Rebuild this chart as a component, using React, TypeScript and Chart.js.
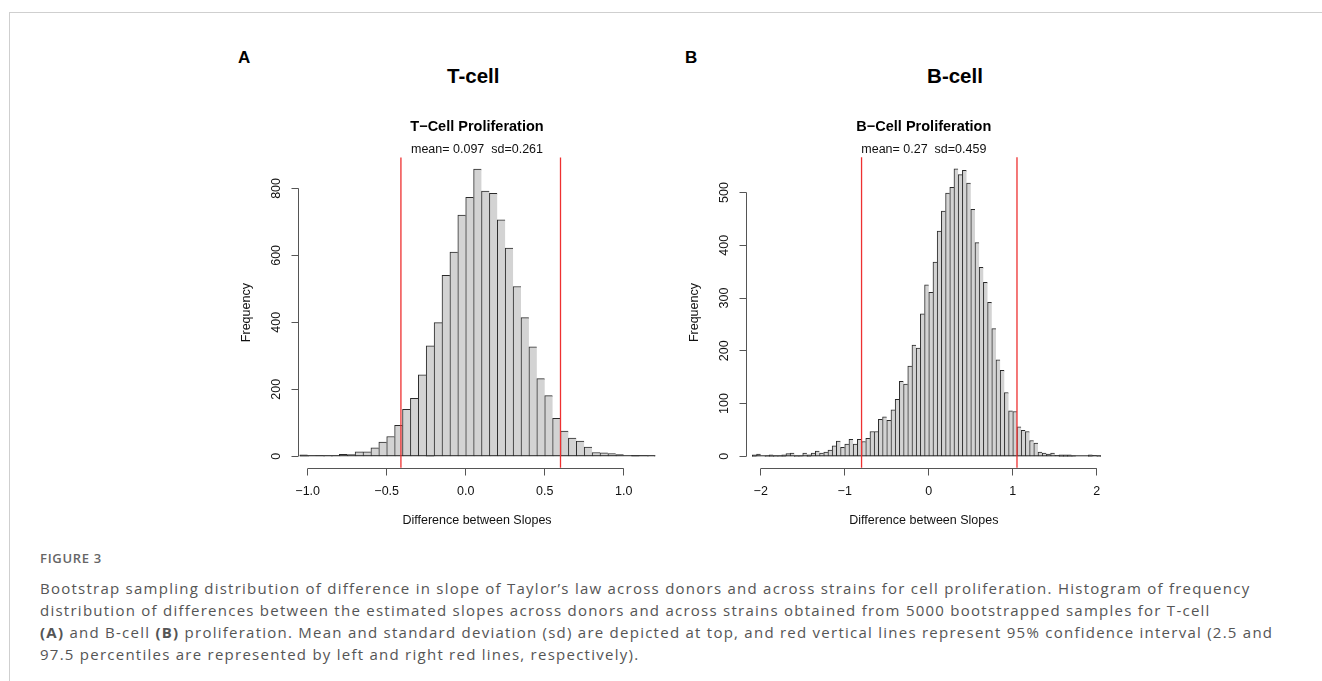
import React, { useEffect, useRef } from "react";
import { Chart, registerables } from "chart.js";

Chart.register(...registerables);

// ---------- data ----------
const BIN_WIDTH = 0.05;

const tCellBinStart = -1.05;
const tCellCounts = [
  4, 1, 2, 1, 1, 6, 5, 13, 13, 25, 42, 59, 92, 140, 173, 243, 330, 399, 540, 610,
  720, 773, 858, 792, 785, 706, 622, 507, 414, 327, 232, 181, 113, 75, 54, 45, 27,
  11, 10, 8, 5, 0, 3, 2, 1,
];
const tCellCI = [-0.41, 0.6];
const tCellXTicks = [-1, -0.5, 0, 0.5, 1];
const tCellXTickLabels = ["\u22121.0", "\u22120.5", "0.0", "0.5", "1.0"];
const tCellYTicks = [0, 200, 400, 600, 800];
const tCellTitle = "T\u2212Cell Proliferation";
const tCellStats = "mean= 0.097  sd=0.261";

const bCellBinStart = -2.1;
const bCellCounts = [
  3, 4, 0, 1, 3, 1, 1, 3, 5, 6, 1, 1, 6, 3, 6, 10, 6, 8, 12, 20, 29, 17, 23, 32,
  23, 32, 28, 34, 47, 47, 70, 75, 68, 88, 108, 142, 137, 171, 211, 205, 270, 325,
  311, 368, 427, 465, 499, 510, 545, 534, 542, 518, 468, 405, 358, 330, 292, 242,
  183, 163, 121, 86, 85, 56, 49, 47, 30, 25, 8, 6, 4, 6, 2, 3, 3, 3, 1, 0, 0, 0,
  3, 2, 1,
];
const bCellCI = [-0.8, 1.05];
const bCellXTicks = [-2, -1, 0, 1, 2];
const bCellXTickLabels = ["\u22122", "\u22121", "0", "1", "2"];
const bCellYTicks = [0, 100, 200, 300, 400, 500];
const bCellTitle = "B\u2212Cell Proliferation";
const bCellStats = "mean= 0.27  sd=0.459";

const xAxisTitle = "Difference between Slopes";
const yAxisTitle = "Frequency";

const captionLines = [
  "Bootstrap sampling distribution of difference in slope of Taylor\u2019s law across donors and across strains for cell proliferation. Histogram of frequency",
  "distribution of differences between the estimated slopes across donors and across strains obtained from 5000 bootstrapped samples for T-cell",
  "__A__ and B-cell __B__ proliferation. Mean and standard deviation (sd) are depicted at top, and red vertical lines represent 95% confidence interval (2.5 and",
  "97.5 percentiles are represented by left and right red lines, respectively).",
];

const FONT = '"Liberation Sans", Arial, Helvetica, sans-serif';

type PanelProps = {
  box: { left: number; top: number; width: number; height: number };
  padding: { left: number; right: number; top: number; bottom: number };
  counts: number[];
  binStart: number;
  ci: number[];
  xRange: [number, number];
  yRange: [number, number];
  xTicks: number[];
  xTickLabels: string[];
  yTicks: number[];
  title: string;
  stats: string;
};

function crisp(v: number) {
  return Math.round(v - 0.5) + 0.5;
}

function HistPanel(p: PanelProps) {
  const ref = useRef<HTMLCanvasElement | null>(null);
  useEffect(() => {
    if (!ref.current) return;
    const n = p.counts.length;
    const rPlugin = {
      id: "rStyle",
      afterDraw(chart: any) {
        const { ctx, chartArea } = chart;
        const xs = chart.scales.x;
        const ys = chart.scales.y;
        ctx.save();
        ctx.lineWidth = 1;
        // baseline under bars
        const y0 = ys.getPixelForValue(0);
        ctx.strokeStyle = "#262626";
        ctx.beginPath();
        ctx.moveTo(xs.getPixelForValue(p.binStart), y0 - 0.5);
        ctx.lineTo(xs.getPixelForValue(p.binStart + n * BIN_WIDTH), y0 - 0.5);
        ctx.stroke();
        // red CI lines
        ctx.lineWidth = 1.3;
        for (let k = 0; k < p.ci.length; k++) {
          const px = xs.getPixelForValue(p.ci[k]);
          ctx.strokeStyle = "rgb(238, 48, 48)";
          ctx.beginPath();
          ctx.moveTo(px, chartArea.top);
          ctx.lineTo(px, chartArea.bottom);
          ctx.stroke();
        }
        ctx.lineWidth = 1;
        // x axis
        ctx.strokeStyle = "#555";
        const xt = xs.ticks;
        const axY = crisp(chartArea.bottom + 0.6);
        ctx.beginPath();
        ctx.moveTo(xs.getPixelForTick(0), axY);
        ctx.lineTo(xs.getPixelForTick(xt.length - 1), axY);
        ctx.stroke();
        ctx.fillStyle = "#111";
        ctx.font = `12.5px ${FONT}`;
        ctx.textAlign = "center";
        ctx.textBaseline = "middle";
        xt.forEach((_t: any, i: number) => {
          const px = crisp(xs.getPixelForTick(i));
          ctx.beginPath();
          ctx.moveTo(px, axY);
          ctx.lineTo(px, axY + 7);
          ctx.stroke();
          ctx.fillText(p.xTickLabels[i], xs.getPixelForTick(i), axY + 23.5);
        });
        const cx = (chartArea.left + chartArea.right) / 2;
        ctx.fillText(xAxisTitle, cx, axY + 52);
        // y axis
        const yt = ys.ticks;
        const axX = crisp(chartArea.left);
        ctx.beginPath();
        ctx.moveTo(axX, ys.getPixelForTick(0));
        ctx.lineTo(axX, ys.getPixelForTick(yt.length - 1));
        ctx.stroke();
        yt.forEach((t: any, i: number) => {
          const py = crisp(ys.getPixelForTick(i));
          ctx.beginPath();
          ctx.moveTo(axX, py);
          ctx.lineTo(axX - 7, py);
          ctx.stroke();
          ctx.save();
          ctx.translate(axX - 22, ys.getPixelForTick(i));
          ctx.rotate(-Math.PI / 2);
          ctx.fillText(String(t.value), 0, 0);
          ctx.restore();
        });
        ctx.save();
        ctx.translate(axX - 51.5, (chartArea.top + chartArea.bottom) / 2);
        ctx.rotate(-Math.PI / 2);
        ctx.fillText(yAxisTitle, 0, 0);
        ctx.restore();
        // titles
        ctx.font = `bold 14.5px ${FONT}`;
        ctx.fillStyle = "#000";
        ctx.fillText(p.title, cx, chartArea.top - 30.2);
        ctx.font = `12.5px ${FONT}`;
        ctx.fillStyle = "#111";
        ctx.fillText(p.stats, cx, chartArea.top - 7.5);
        ctx.restore();
      },
    };
    const chart = new Chart(ref.current, {
      type: "bar",
      data: {
        datasets: [
          {
            data: p.counts.map((c, i) => ({ x: p.binStart + (i + 0.5) * BIN_WIDTH, y: c })),
            backgroundColor: "#d3d3d3",
            borderColor: "#2a2a2a",
            borderWidth: (c: any) => ({
              top: 1,
              left: 1,
              bottom: 0,
              right: c.dataIndex === n - 1 ? 1 : 0,
            }),
            borderSkipped: false,
            barPercentage: 1,
            categoryPercentage: 1,
          } as any,
        ],
      },
      options: {
        responsive: false,
        animation: false,
        devicePixelRatio: 1,
        events: [],
        layout: { padding: p.padding },
        plugins: { legend: { display: false }, tooltip: { enabled: false }, title: { display: false } },
        scales: {
          x: {
            type: "linear",
            display: false,
            offset: false,
            min: p.xRange[0],
            max: p.xRange[1],
            afterBuildTicks: (s: any) => {
              s.ticks = p.xTicks.map((v) => ({ value: v }));
            },
          },
          y: {
            type: "linear",
            display: false,
            min: p.yRange[0],
            max: p.yRange[1],
            afterBuildTicks: (s: any) => {
              s.ticks = p.yTicks.map((v) => ({ value: v }));
            },
          },
        },
      } as any,
      plugins: [rPlugin as any],
    });
    return () => chart.destroy();
  }, []);
  return (
    <canvas
      ref={ref}
      width={p.box.width}
      height={p.box.height}
      style={{
        position: "absolute",
        left: p.box.left,
        top: p.box.top,
        width: p.box.width,
        height: p.box.height,
        display: "block",
      }}
    />
  );
}

function Caption() {
  const renderLine = (s: string) => {
    const parts = s.split(/__(A|B)__/);
    return parts.map((part, i) =>
      i % 2 === 1 ? (
        <b key={i} style={{ fontWeight: 700 }}>
          ({part})
        </b>
      ) : (
        <span key={i}>{part}</span>
      )
    );
  };
  return (
    <div
      style={{
        position: "absolute",
        left: 40,
        top: 577,
        fontFamily: '"Open Sans", sans-serif',
        fontSize: 15,
        letterSpacing: "1.25px",
        lineHeight: "22px",
        color: "#555",
        whiteSpace: "pre",
      }}
    >
      {captionLines.map((l, i) => (
        <div key={i}>{renderLine(l)}</div>
      ))}
    </div>
  );
}

export default function App() {
  return (
    <div
      style={{
        position: "absolute",
        left: 0,
        top: 0,
        width: 1322,
        height: 681,
        background: "#fff",
        overflow: "hidden",
      }}
    >
      <div
        style={{
          position: "absolute",
          left: 9,
          top: 12,
          width: 1400,
          height: 700,
          borderTop: "1px solid #cfcfcf",
          borderLeft: "1px solid #cfcfcf",
        }}
      />
      <div style={{ position: "absolute", left: 238, top: 48.5, fontFamily: FONT, fontWeight: 700, fontSize: 17, lineHeight: 1 }}>
        A
      </div>
      <div style={{ position: "absolute", left: 685, top: 48.5, fontFamily: FONT, fontWeight: 700, fontSize: 17, lineHeight: 1 }}>
        B
      </div>
      <div
        style={{
          position: "absolute",
          left: 373.3,
          width: 200,
          top: 65.5,
          textAlign: "center",
          fontFamily: FONT,
          fontWeight: 700,
          fontSize: 20.5,
          lineHeight: 1,
        }}
      >
        T-cell
      </div>
      <div
        style={{
          position: "absolute",
          left: 855,
          width: 200,
          top: 65.5,
          textAlign: "center",
          fontFamily: FONT,
          fontWeight: 700,
          fontSize: 20.5,
          lineHeight: 1,
        }}
      >
        B-cell
      </div>
      <HistPanel
        box={{ left: 200, top: 90, width: 470, height: 460 }}
        padding={{ left: 98.7, right: 14.7, top: 67.5, bottom: 82.3 }}
        counts={tCellCounts}
        binStart={tCellBinStart}
        ci={tCellCI}
        xRange={[-1.057, 1.2]}
        yRange={[-34.3, 892.3]}
        xTicks={tCellXTicks}
        xTickLabels={tCellXTickLabels}
        yTicks={tCellYTicks}
        title={tCellTitle}
        stats={tCellStats}
      />
      <HistPanel
        box={{ left: 670, top: 90, width: 460, height: 460 }}
        padding={{ left: 76.7, right: 29, top: 67.3, bottom: 82.2 }}
        counts={bCellCounts}
        binStart={bCellBinStart}
        ci={bCellCI}
        xRange={[-2.167, 2.05]}
        yRange={[-21.8, 566.8]}
        xTicks={bCellXTicks}
        xTickLabels={bCellXTickLabels}
        yTicks={bCellYTicks}
        title={bCellTitle}
        stats={bCellStats}
      />
      <div
        style={{
          position: "absolute",
          left: 40,
          top: 551.8,
          fontFamily: '"Open Sans", sans-serif',
          fontSize: 13,
          fontWeight: 600,
          letterSpacing: "0.7px",
          lineHeight: 1,
          color: "#666",
        }}
      >
        FIGURE 3
      </div>
      <Caption />
    </div>
  );
}
